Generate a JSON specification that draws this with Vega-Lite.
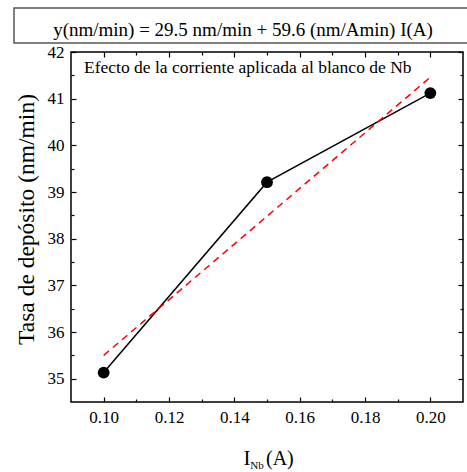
{
  "$schema": "https://vega.github.io/schema/vega-lite/v6.json",
  "padding": {"left": 13, "top": 7, "right": 0, "bottom": 0},
  "background": "white",
  "config": {
    "font": "Liberation Serif",
    "view": {"stroke": null},
    "text": {"font": "Liberation Serif"},
    "axis": {"grid": false, "domain": false, "tickColor": "black", "tickWidth": 1.2, "labelColor": "black", "labelFont": "Liberation Serif", "labelFontSize": 17, "titleColor": "black", "titleFont": "Liberation Serif", "titleFontWeight": "normal", "labelFlush": false, "labelOverlap": false}
  },
  "datasets": {
    "points": [
      {"I": 0.10, "rate": 35.13},
      {"I": 0.15, "rate": 39.21},
      {"I": 0.20, "rate": 41.12}
    ],
    "fit": [
      {"I": 0.10, "rate": 35.5},
      {"I": 0.20, "rate": 41.46}
    ],
    "eq": [{"label": "y(nm/min) = 29.5 nm/min + 59.6 (nm/Amin) I(A)"}],
    "note": [{"label": "Efecto de la corriente aplicada al blanco de Nb"}],
    "xtitle": [{"main": "I", "sub": "Nb", "unit": "(A)"}]
  },
  "spacing": 9,
  "bounds": "flush",
  "center": true,
  "vconcat": [
    {
      "width": 506,
      "height": 35,
      "view": {"stroke": "#555555", "strokeWidth": 1.5},
      "data": {"name": "eq"},
      "mark": {"type": "text", "font": "Liberation Serif", "fontSize": 19, "baseline": "alphabetic", "dy": 10, "dx": -24, "color": "black"},
      "encoding": {"text": {"field": "label", "type": "nominal"}}
    },
    {
      "width": 392,
      "height": 350,
      "view": {"stroke": "black", "strokeWidth": 1.5},
      "resolve": {"axis": {"x": "independent", "y": "independent"}},
      "layer": [
        {
          "data": {"name": "points"},
          "mark": {"type": "line", "color": "black", "strokeWidth": 1.5},
          "encoding": {
            "x": {"field": "I", "type": "quantitative", "scale": {"domain": [0.09, 0.21], "nice": false, "zero": false},
              "axis": {"orient": "bottom", "values": [0.10, 0.12, 0.14, 0.16, 0.18, 0.20], "format": ".2f", "tickSize": -5, "labelPadding": 12, "labelFont": "Liberation Serif", "title": null}},
            "y": {"field": "rate", "type": "quantitative", "scale": {"domain": [34.5, 42], "nice": false, "zero": false},
              "axis": {"orient": "left", "values": [35, 36, 37, 38, 39, 40, 41, 42], "format": "d", "tickSize": -5, "labelPadding": 12, "labelFont": "Liberation Serif", "title": "Tasa de depósito (nm/min)", "titleFont": "Liberation Serif", "titleFontSize": 23.5, "titlePadding": 9, "titleY": 167}}
          }
        },
        {
          "data": {"name": "fit"},
          "mark": {"type": "line", "color": "#ff0000", "strokeWidth": 1.5, "strokeDash": [7, 5]},
          "encoding": {
            "x": {"field": "I", "type": "quantitative",
              "axis": {"orient": "bottom", "values": [0.11, 0.13, 0.15, 0.17, 0.19], "tickSize": -3, "labels": false, "title": null}},
            "y": {"field": "rate", "type": "quantitative",
              "axis": {"orient": "left", "values": [35.5, 36.5, 37.5, 38.5, 39.5, 40.5, 41.5], "tickSize": -3, "labels": false, "title": null}}
          }
        },
        {
          "data": {"name": "points"},
          "mark": {"type": "circle", "color": "black", "opacity": 1, "size": 140},
          "encoding": {
            "x": {"field": "I", "type": "quantitative",
              "axis": {"orient": "top", "values": [0.10, 0.12, 0.14, 0.16, 0.18, 0.20], "tickSize": -5, "labels": false, "title": null}},
            "y": {"field": "rate", "type": "quantitative",
              "axis": {"orient": "right", "values": [35, 36, 37, 38, 39, 40, 41, 42], "tickSize": -5, "labels": false, "title": null}}
          }
        },
        {
          "data": {"name": "note"},
          "mark": {"type": "text", "font": "Liberation Serif", "align": "left", "baseline": "alphabetic", "fontSize": 17.5, "color": "black"},
          "encoding": {
            "text": {"field": "label", "type": "nominal"},
            "x": {"datum": 0.094, "type": "quantitative",
              "axis": {"orient": "top", "values": [0.11, 0.13, 0.15, 0.17, 0.19], "tickSize": -3, "labels": false, "title": null}},
            "y": {"datum": 41.56, "type": "quantitative",
              "axis": {"orient": "right", "values": [35.5, 36.5, 37.5, 38.5, 39.5, 40.5, 41.5], "tickSize": -3, "labels": false, "title": null}}
          }
        },
        {
          "data": {"name": "xtitle"},
          "mark": {"type": "text", "font": "Liberation Serif", "align": "left", "baseline": "alphabetic", "fontSize": 21, "dy": 63, "color": "black"},
          "encoding": {
            "text": {"field": "main", "type": "nominal"},
            "x": {"datum": 0.1428, "type": "quantitative", "axis": null},
            "y": {"datum": 34.5, "type": "quantitative", "axis": null}
          }
        },
        {
          "data": {"name": "xtitle"},
          "mark": {"type": "text", "font": "Liberation Serif", "align": "left", "baseline": "alphabetic", "fontSize": 11, "dy": 67, "color": "black"},
          "encoding": {
            "text": {"field": "sub", "type": "nominal"},
            "x": {"datum": 0.1449, "type": "quantitative", "axis": null},
            "y": {"datum": 34.5, "type": "quantitative", "axis": null}
          }
        },
        {
          "data": {"name": "xtitle"},
          "mark": {"type": "text", "font": "Liberation Serif", "align": "left", "baseline": "alphabetic", "fontSize": 20, "dy": 63, "color": "black"},
          "encoding": {
            "text": {"field": "unit", "type": "nominal"},
            "x": {"datum": 0.1497, "type": "quantitative", "axis": null},
            "y": {"datum": 34.5, "type": "quantitative", "axis": null}
          }
        }
      ]
    }
  ]
}
